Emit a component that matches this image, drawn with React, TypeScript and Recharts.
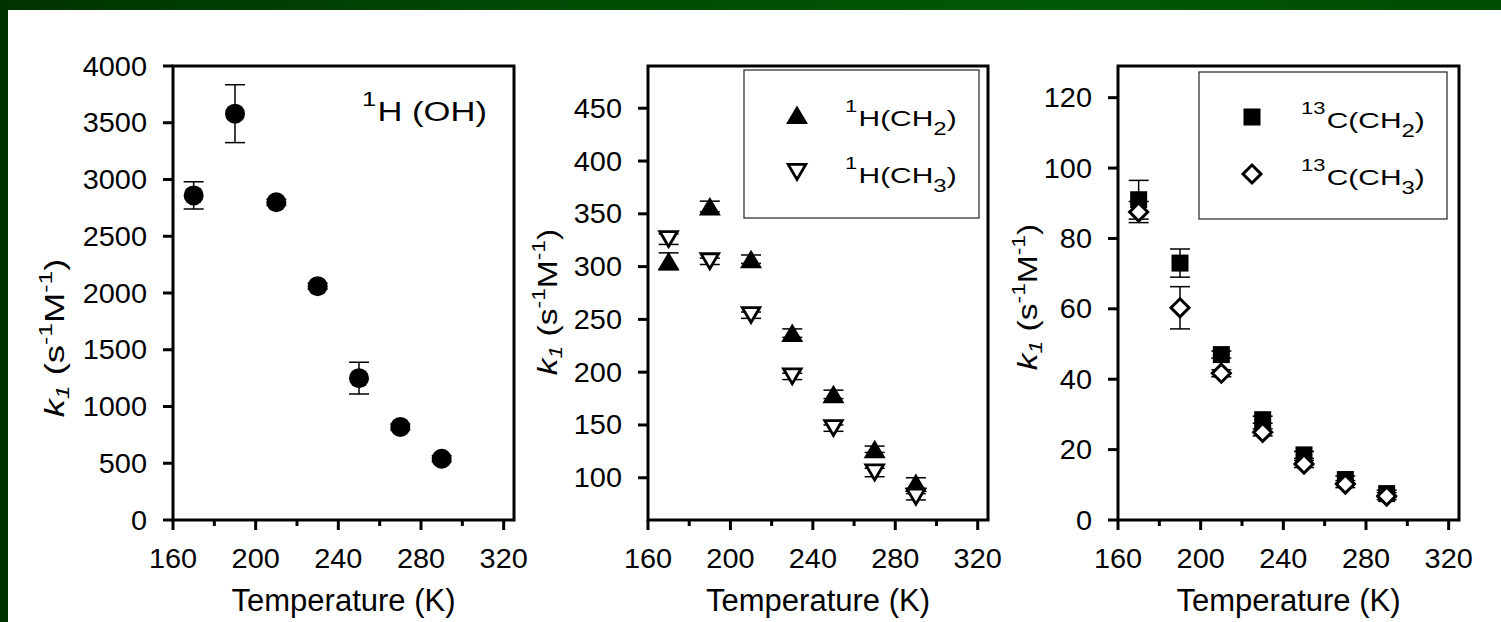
import React from 'react';
import {
  ScatterChart,
  Scatter,
  XAxis,
  YAxis,
  ErrorBar,
  ReferenceArea,
  Customized,
} from 'recharts';

const FONT = "'Liberation Sans', Arial, Helvetica, sans-serif";

// Measurement temperatures (K)
const temperatures = [170, 190, 210, 230, 250, 270, 290];

// 1H (OH) rate constants and errors
const ohRate = [2860, 3580, 2800, 2060, 1250, 820, 540];
const ohError = [120, 255, 25, 25, 140, 25, 25];

// 1H (CH2) / 1H (CH3)
const hCh2Rate = [305, 357, 307, 237, 179, 127, 95];
const hCh2Error = [8, 5, 4, 4, 4, 3, 5];
const hCh3Rate = [326, 305, 254, 196, 147, 105, 82];
const hCh3Error = [5, 3, 3, 3, 3, 4, 3];

// 13C (CH2) / 13C (CH3)
const cCh2Rate = [91, 73, 47, 28.5, 18.5, 11.5, 7.5];
const cCh2Error = [5.5, 4, 1, 1, 1, 1, 1];
const cCh3Rate = [87.5, 60.3, 41.7, 24.9, 15.9, 10.2, 6.8];
const cCh3Error = [3, 6, 1, 1, 1, 1, 1];

// Axis ticks
const xTicks = [160, 180, 200, 220, 240, 260, 280, 300, 320];
const xDomain: [number, number] = [160, 325];
const ohTicks = [0, 500, 1000, 1500, 2000, 2500, 3000, 3500, 4000];
const hTicks = [100, 150, 200, 250, 300, 350, 400, 450];
const cTicks = [0, 20, 40, 60, 80, 100, 120];

// Legend / annotation text
const ohLabel = { sup: '1', main: 'H (OH)' };
const hLegend = [
  { sup: '1', main: 'H(CH', sub: '2' },
  { sup: '1', main: 'H(CH', sub: '3' },
];
const cLegend = [
  { sup: '13', main: 'C(CH', sub: '2' },
  { sup: '13', main: 'C(CH', sub: '3' },
];

type Pt = { t: number; k: number; err: number };
const toPoints = (rates: number[], errors: number[]): Pt[] =>
  temperatures.map((t, i) => ({ t, k: rates[i], err: errors[i] }));

// ---- marker shapes ----
const drawCircle = (cx: number, cy: number) => <circle cx={cx} cy={cy} r={10} fill="#000" />;
const drawTriUp = (cx: number, cy: number) => (
  <polygon points={`${cx},${cy - 9.5} ${cx + 11},${cy + 9} ${cx - 11},${cy + 9}`} fill="#000" />
);
const drawTriDown = (cx: number, cy: number) => (
  <polygon
    points={`${cx - 8.8},${cy - 7.6} ${cx + 8.8},${cy - 7.6} ${cx},${cy + 7.4}`}
    fill="#fff"
    stroke="#000"
    strokeWidth={2.8}
  />
);
const drawSquare = (cx: number, cy: number) => (
  <rect x={cx - 8.5} y={cy - 8.5} width={17} height={17} fill="#000" />
);
const drawDiamond = (cx: number, cy: number) => (
  <polygon
    points={`${cx},${cy - 9} ${cx + 9},${cy} ${cx},${cy + 9} ${cx - 9},${cy}`}
    fill="#fff"
    stroke="#000"
    strokeWidth={3}
  />
);
const asShape = (draw: (cx: number, cy: number) => React.ReactElement) => (p: any) =>
  draw(p.cx, p.cy);
const noShape = () => <g />;

// ---- axis ticks ----
function XTick(props: any) {
  const { x, y, payload } = props;
  const v = payload.value;
  const major = (v - 160) % 40 === 0;
  return (
    <g>
      <line x1={x} x2={x} y1={y} y2={y + (major ? 10 : 6)} stroke="#000" strokeWidth={3} />
      {major && (
        <text
          transform={`translate(${x},${y + 48}) scale(1.07,1)`}
          textAnchor="middle"
          fontSize={27}
          fontFamily={FONT}
          fill="#000"
        >
          {v}
        </text>
      )}
    </g>
  );
}

function YTick(props: any) {
  const { x, y, payload } = props;
  return (
    <g>
      <line x1={x - 10} x2={x} y1={y} y2={y} stroke="#000" strokeWidth={3} />
      <text
        transform={`translate(${x - 26},${y + 9.5}) scale(1.07,1)`}
        textAnchor="end"
        fontSize={27}
        fontFamily={FONT}
        fill="#000"
      >
        {payload.value}
      </text>
    </g>
  );
}

// ---- titles ----
function YTitle({ x, y, stretch }: { x: number; y: number; stretch: number }) {
  return (
    <text
      transform={`translate(${x},${y}) rotate(-90) scale(${stretch},1)`}
      textAnchor="middle"
      fontFamily={FONT}
      fontSize={28}
      fill="#000"
    >
      <tspan fontStyle="italic">k</tspan>
      <tspan fontStyle="italic" fontSize={19} dy={5}>1</tspan>
      <tspan dy={-5}>{' (s'}</tspan>
      <tspan fontSize={19} dy={-12}>-1</tspan>
      <tspan dy={12}>M</tspan>
      <tspan fontSize={19} dy={-12}>-1</tspan>
      <tspan dy={12}>)</tspan>
    </text>
  );
}

function XTitle({ x, y }: { x: number; y: number }) {
  return (
    <text x={x} y={y} textAnchor="middle" fontFamily={FONT} fontSize={31} fill="#000">
      Temperature (K)
    </text>
  );
}

type LegendRow = { sup: string; main: string; sub: string };

function LegendBox(props: {
  box: [number, number, number, number];
  symX: number;
  textX: number;
  rows: LegendRow[];
  rowY: number[];
  draws: ((cx: number, cy: number) => React.ReactElement)[];
}) {
  const { box, symX, textX, rows, rowY, draws } = props;
  return (
    <g>
      <rect x={box[0]} y={box[1]} width={box[2]} height={box[3]} fill="#fff" stroke="#222" strokeWidth={1.2} />
      {rows.map((r, i) => (
        <g key={i}>
          {draws[i](symX, rowY[i] - 11)}
          <text
            transform={`translate(${textX},${rowY[i]}) scale(1.33,1)`}
            fontFamily={FONT}
            fontSize={22.5}
            fill="#000"
          >
            <tspan fontSize={16.5} dy={-14}>{r.sup}</tspan>
            <tspan dy={14} dx={1}>{r.main}</tspan>
            <tspan fontSize={18} dy={9}>{r.sub}</tspan>
            <tspan dy={-9}>)</tspan>
          </text>
        </g>
      ))}
    </g>
  );
}

type SeriesDef = {
  name: string;
  data: Pt[];
  draw: (cx: number, cy: number) => React.ReactElement;
};

function Panel(props: {
  left: number;
  width: number;
  plotLeft: number;
  plotRight: number;
  yDomain: [number, number];
  yTicks: number[];
  series: SeriesDef[];
  yTitle: [number, number, number];
  decor: React.ReactNode;
}) {
  const { left, width, plotLeft, plotRight, yDomain, yTicks, series, yTitle, decor } = props;
  const plotCenter = (plotLeft + plotRight) / 2;
  return (
    <div style={{ position: 'absolute', left, top: 0 }}>
      <ScatterChart
        width={width}
        height={622}
        margin={{ top: 66, right: left + width - plotRight, bottom: 0, left: 0 }}
      >
        <XAxis
          type="number"
          dataKey="t"
          domain={xDomain}
          ticks={xTicks}
          interval={0}
          allowDataOverflow
          axisLine={false}
          tickLine={false}
          tickSize={0}
          tickMargin={0}
          tick={<XTick />}
          height={102}
        />
        <YAxis
          type="number"
          dataKey="k"
          domain={yDomain}
          ticks={yTicks}
          interval={0}
          allowDataOverflow
          axisLine={false}
          tickLine={false}
          tickSize={0}
          tickMargin={0}
          tick={<YTick />}
          width={plotLeft - left}
        />
        <ReferenceArea
          x1={xDomain[0]}
          x2={xDomain[1]}
          y1={yDomain[0]}
          y2={yDomain[1]}
          fill="none"
          fillOpacity={0}
          stroke="#000"
          strokeWidth={3}
        />
        {/* error bars first so the markers sit on top of them */}
        {series.map((s) => (
          <Scatter
            key={`${s.name}-err`}
            name={`${s.name} error`}
            data={s.data}
            shape={noShape}
            isAnimationActive={false}
          >
            <ErrorBar dataKey="err" direction="y" width={10} stroke="#000" strokeWidth={1.5} />
          </Scatter>
        ))}
        {series.map((s) => (
          <Scatter
            key={s.name}
            name={s.name}
            data={s.data}
            shape={asShape(s.draw)}
            isAnimationActive={false}
          />
        ))}
        <Customized
          component={
            <g transform={`translate(${-left},0)`}>
              <YTitle x={yTitle[0]} y={yTitle[1]} stretch={yTitle[2]} />
              <XTitle x={plotCenter} y={611} />
              {decor}
            </g>
          }
        />
      </ScatterChart>
    </div>
  );
}

export default function App() {
  return (
    <div
      style={{
        position: 'absolute',
        left: 0,
        top: 0,
        width: 1501,
        height: 622,
        background: '#fff',
        overflow: 'hidden',
      }}
    >
      <div
        style={{
          position: 'absolute',
          left: 0,
          top: 0,
          width: 1501,
          height: 10,
          background: 'linear-gradient(90deg, #003300 0%, #004a04 35%, #005706 70%, #004c04 100%)',
        }}
      />
      <div style={{ position: 'absolute', left: 0, top: 0, width: 8, height: 622, background: '#003300' }} />

      <Panel
        left={0}
        width={530}
        plotLeft={173}
        plotRight={514}
        yDomain={[0, 4000]}
        yTicks={ohTicks}
        series={[{ name: '1H (OH)', data: toPoints(ohRate, ohError), draw: drawCircle }]}
        yTitle={[64, 338, 1.3]}
        decor={
          <text
            transform="translate(362,121) scale(1.28,1)"
            fontFamily={FONT}
            fontSize={27}
            fill="#000"
          >
            <tspan fontSize={20} dy={-15}>{ohLabel.sup}</tspan>
            <tspan dy={15} dx={1}>{ohLabel.main}</tspan>
          </text>
        }
      />

      <Panel
        left={520}
        width={500}
        plotLeft={648}
        plotRight={988}
        yDomain={[60, 490]}
        yTicks={hTicks}
        series={[
          { name: '1H(CH2)', data: toPoints(hCh2Rate, hCh2Error), draw: drawTriUp },
          { name: '1H(CH3)', data: toPoints(hCh3Rate, hCh3Error), draw: drawTriDown },
        ]}
        yTitle={[557, 302, 1.2]}
        decor={
          <LegendBox
            box={[744, 70, 235, 148]}
            symX={797}
            textX={845}
            rows={hLegend}
            rowY={[126, 183]}
            draws={[drawTriUp, drawTriDown]}
          />
        }
      />

      <Panel
        left={1000}
        width={501}
        plotLeft={1118}
        plotRight={1459}
        yDomain={[0, 129]}
        yTicks={cTicks}
        series={[
          { name: '13C(CH2)', data: toPoints(cCh2Rate, cCh2Error), draw: drawSquare },
          { name: '13C(CH3)', data: toPoints(cCh3Rate, cCh3Error), draw: drawDiamond },
        ]}
        yTitle={[1037, 297, 1.2]}
        decor={
          <LegendBox
            box={[1199, 72, 248, 147]}
            symX={1252}
            textX={1301}
            rows={cLegend}
            rowY={[128, 185]}
            draws={[drawSquare, drawDiamond]}
          />
        }
      />
    </div>
  );
}
